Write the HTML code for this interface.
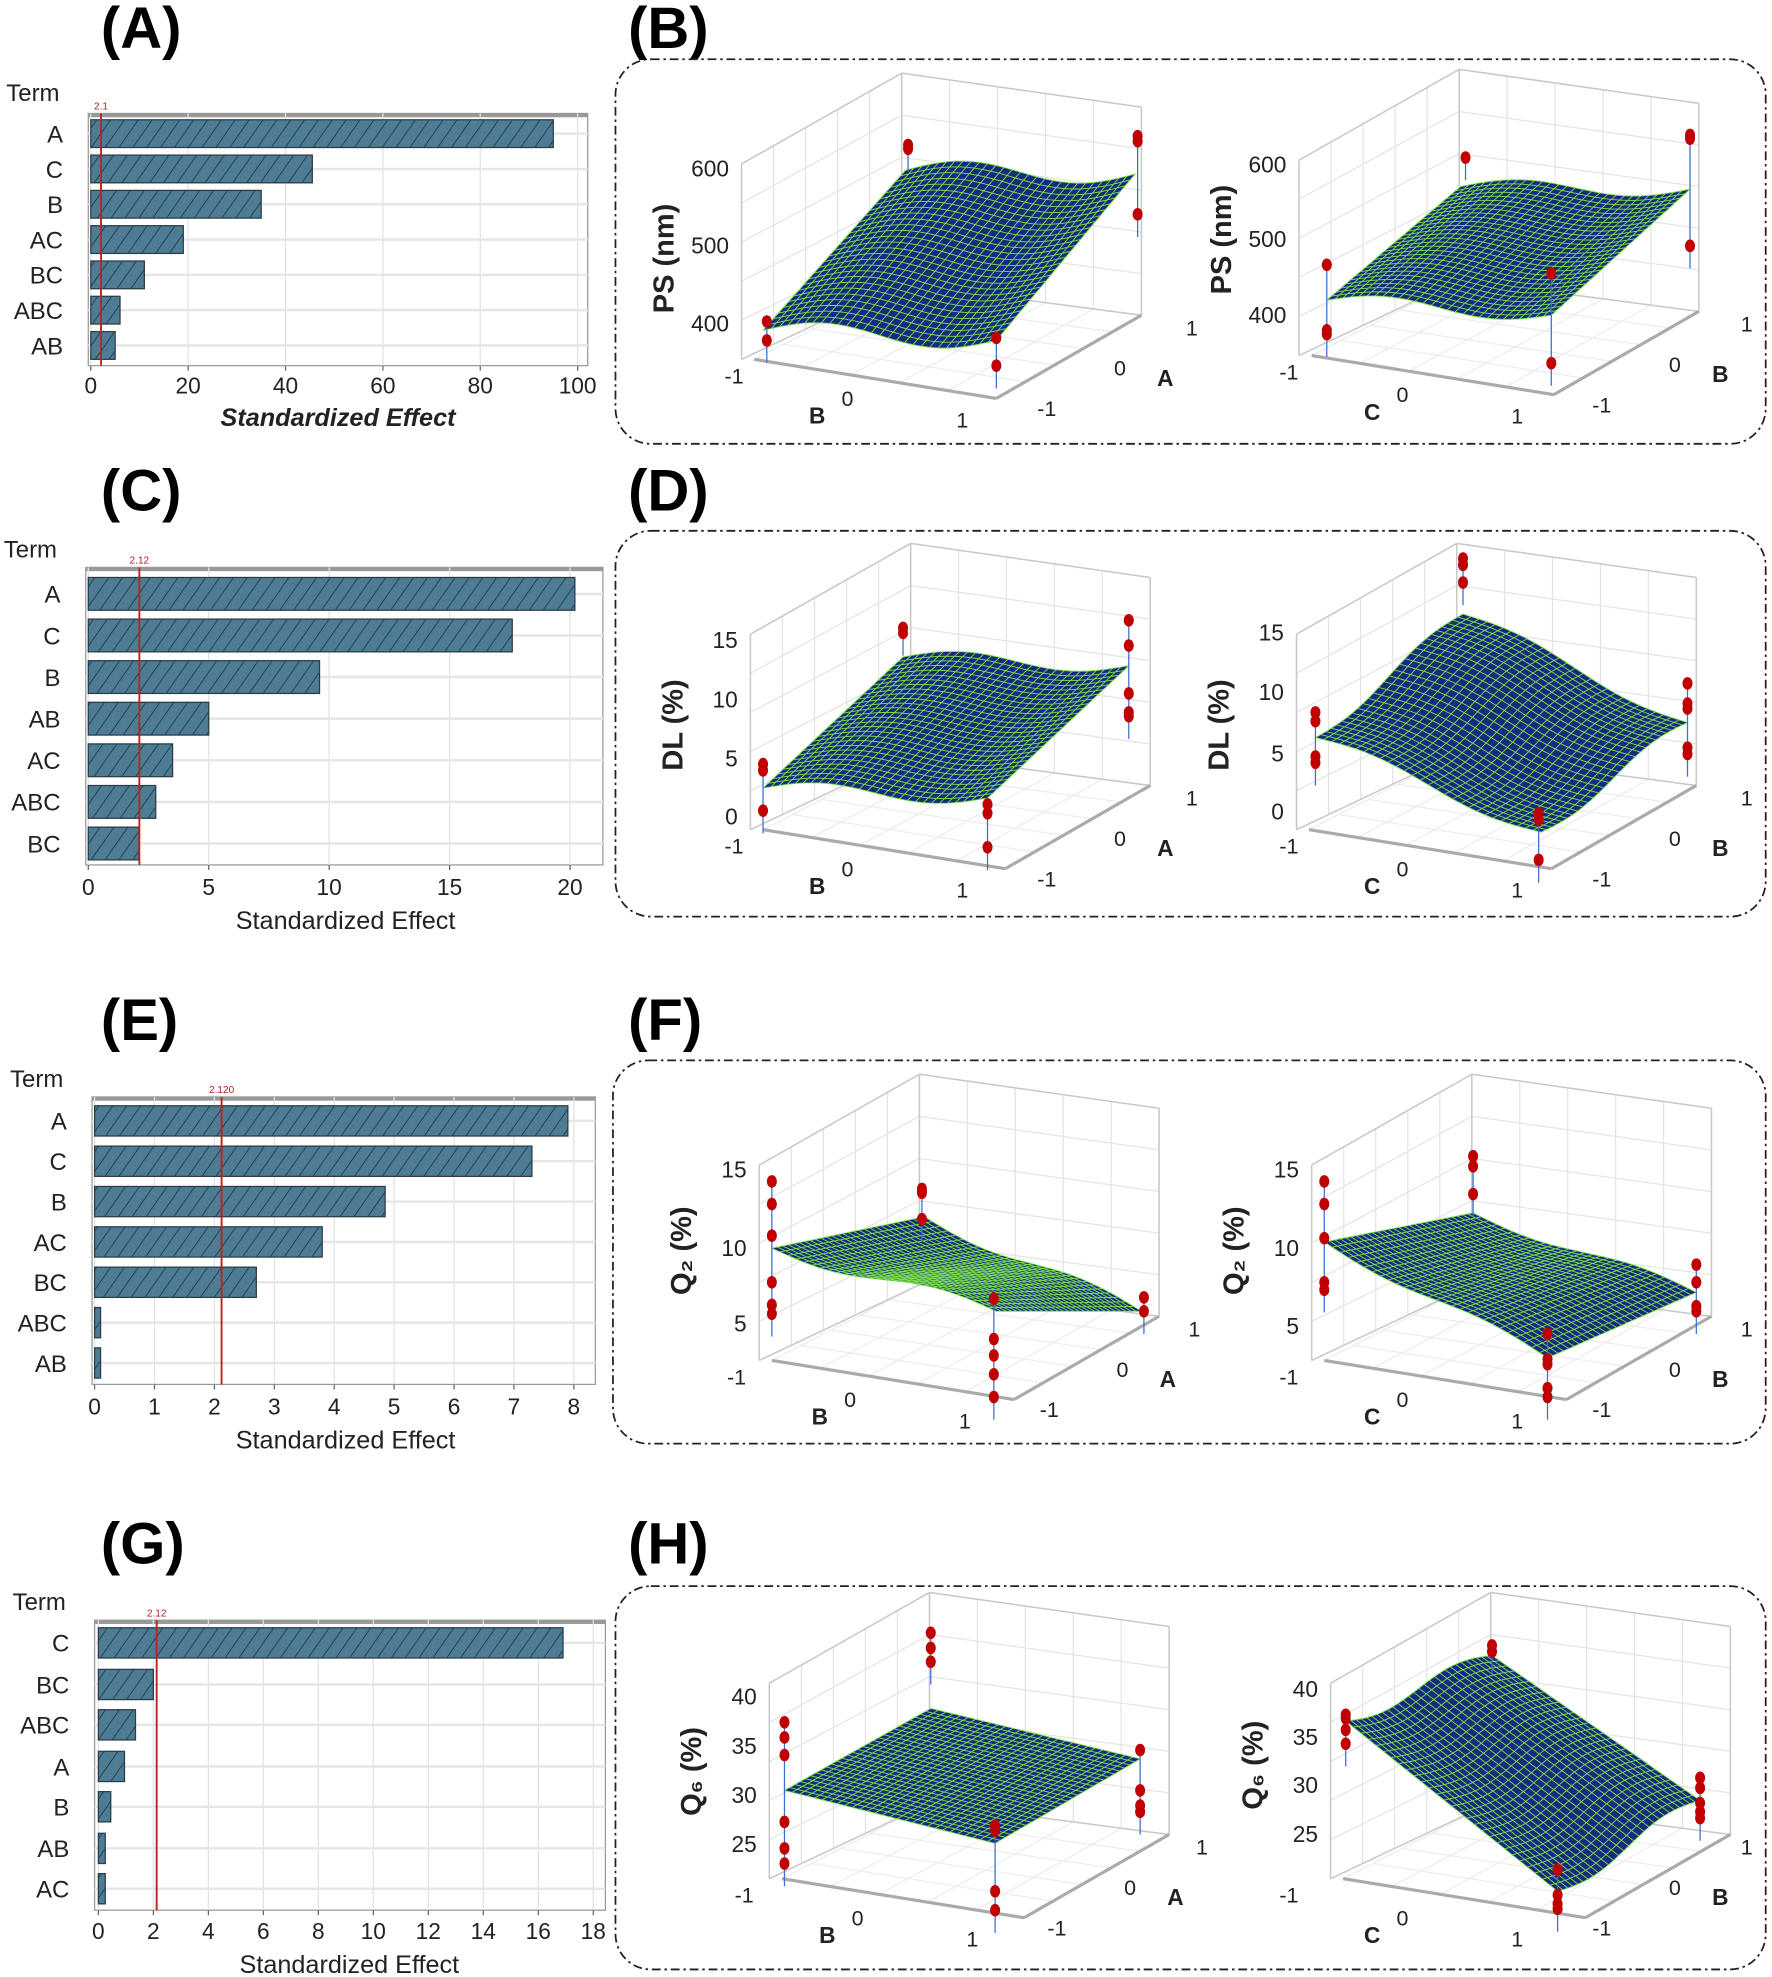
<!DOCTYPE html>
<html><head><meta charset="utf-8"><style>
html,body{margin:0;padding:0;background:#fff;}
svg{display:block;font-family:"Liberation Sans",sans-serif;}
</style></head><body>
<svg id="s" width="1772" height="1977" viewBox="0 0 1405 1568" preserveAspectRatio="none" xmlns="http://www.w3.org/2000/svg">
<defs>
<pattern id="h" patternUnits="userSpaceOnUse" width="9" height="9" patternTransform="rotate(35)">
<rect width="9" height="9" fill="#4d7c94"/><line x1="0" y1="0" x2="0" y2="9" stroke="#1d3440" stroke-width="1.3"/>
</pattern>
</defs>
<g font-weight="bold" font-size="46" fill="#000">
<text x="80" y="38">(A)</text><text x="498" y="38">(B)</text>
<text x="80" y="405">(C)</text><text x="498" y="405">(D)</text>
<text x="80" y="825">(E)</text><text x="498" y="825">(F)</text>
<text x="80" y="1240">(G)</text><text x="498" y="1240">(H)</text>
</g>
<g fill="none" stroke="#222" stroke-width="1.4" stroke-dasharray="7,3,2,3">
<rect x="488" y="47" width="912" height="305" rx="28"/>
<rect x="488" y="421" width="912" height="306" rx="28"/>
<rect x="486" y="841" width="914" height="304" rx="28"/>
<rect x="488" y="1258" width="912" height="304" rx="28"/>
</g>
<g id="g"></g>
</svg>
<script>
const NS="http://www.w3.org/2000/svg",G=document.getElementById('g');
function el(t,a,txt){const e=document.createElementNS(NS,t);for(const k in a)e.setAttribute(k,a[k]);if(txt!==undefined)e.textContent=txt;G.appendChild(e);return e;}
function bar(o){
 const [x0,y0,x1,y1]=o.box;
 el('rect',{x:x0,y:y0,width:x1-x0,height:y1-y0,fill:'#fff',stroke:'#999','stroke-width':1});
 el('rect',{x:x0,y:y0,width:x1-x0,height:3,fill:'#999'});
 o.ticks.forEach(t=>{const x=o.z+t*o.s;el('line',{x1:x,y1:y0,x2:x,y2:y1,stroke:'#e2e2e2'});el('line',{x1:x,y1:y1,x2:x,y2:y1+4,stroke:'#666'});
  el('text',{x:x,y:o.ty,'font-size':18,'text-anchor':'middle',fill:'#222'},String(t));});
 o.rows.forEach((r,i)=>{el('line',{x1:x0,y1:r,x2:x1,y2:r,stroke:'#e6e6e6','stroke-width':2});
  el('rect',{x:o.z,y:r-o.h/2,width:Math.max(o.v[i]*o.s,2),height:o.h,fill:'url(#h)',stroke:'#2a3d48','stroke-width':1});
  el('text',{x:o.lx,y:r+7,'font-size':19,'text-anchor':'end',fill:'#222'},o.l[i]);});
 const rx=o.z+o.red*o.s;el('line',{x1:rx,y1:y0,x2:rx,y2:y1,stroke:'#b22','stroke-width':1.5});
 el('text',{x:rx,y:y0-3,'font-size':8,'text-anchor':'middle',fill:'#a22'},o.rl);
 el('text',{x:o.tx,y:o.tyy,'font-size':19,fill:'#222'},'Term');
 el('text',{x:o.xc,y:o.xy,'font-size':20,'text-anchor':'middle',fill:'#222','font-style':o.it?'italic':'normal','font-weight':o.it?'bold':'normal'},'Standardized Effect');
}
bar({box:[70,90,466,290],z:72,s:3.86,ticks:[0,20,40,60,80,100],ty:312,rows:[106,134,162,190,218,246,274],h:22,v:[95,45.5,35,19,11,6,5],l:['A','C','B','AC','BC','ABC','AB'],lx:50,red:2.1,rl:'2.1',tx:5,tyy:80,xc:268,xy:338,it:true});
bar({box:[68,450,478,686],z:70,s:19.1,ticks:[0,5,10,15,20],ty:710,rows:[471,504,537,570,603,636,669],h:26,v:[20.2,17.6,9.6,5,3.5,2.8,2.1],l:['A','C','B','AB','AC','ABC','BC'],lx:48,red:2.12,rl:'2.12',tx:3,tyy:442,xc:274,xy:737});
bar({box:[73,870,472,1098],z:75,s:47.5,ticks:[0,1,2,3,4,5,6,7,8],ty:1122,rows:[889,921,953,985,1017,1049,1081],h:24,v:[7.9,7.3,4.85,3.8,2.7,0.1,0.1],l:['A','C','B','AC','BC','ABC','AB'],lx:53,red:2.12,rl:'2.120',tx:8,tyy:862,xc:274,xy:1149});
bar({box:[75,1285,480,1515],z:78,s:21.8,ticks:[0,2,4,6,8,10,12,14,16,18],ty:1538,rows:[1303,1336,1368,1401,1433,1466,1498],h:24,v:[16.9,2,1.35,0.95,0.45,0.25,0.25],l:['C','BC','ABC','A','B','AB','AC'],lx:55,red:2.12,rl:'2.12',tx:10,tyy:1277,xc:277,xy:1565});

function P(x,y){return x.toFixed(1)+','+y.toFixed(1);}
function plot3(o){
 const dx=o.dx,dy=o.dy,ldx=o.ldx;
 const L=[598+dx,285+dy],F=[790+dx,316+dy],R=[905+dx,250+dy],K=[715+dx,225+dy];
 const Lt=[588+dx,130+dy],Kt=[715+dx,58+dy],Rt=[905+dx,85+dy],L0=[588+dx,285+dy];
 for(let i=0;i<=5;i++){const t=i/5;
  el('line',{x1:L0[0]+(K[0]-L0[0])*t,y1:L0[1]+(K[1]-L0[1])*t,x2:Lt[0]+(Kt[0]-Lt[0])*t,y2:Lt[1]+(Kt[1]-Lt[1])*t,stroke:'#e4e4e4'});
  el('line',{x1:K[0]+(R[0]-K[0])*t,y1:K[1]+(R[1]-K[1])*t,x2:Kt[0]+(Rt[0]-Kt[0])*t,y2:Kt[1]+(Rt[1]-Kt[1])*t,stroke:'#e4e4e4'});
  el('line',{x1:L0[0]+(Lt[0]-L0[0])*t,y1:L0[1]+(Lt[1]-L0[1])*t,x2:K[0]+(Kt[0]-K[0])*t,y2:K[1]+(Kt[1]-K[1])*t,stroke:'#e4e4e4'});
  el('line',{x1:K[0]+(Kt[0]-K[0])*t,y1:K[1]+(Kt[1]-K[1])*t,x2:R[0]+(Rt[0]-R[0])*t,y2:R[1]+(Rt[1]-R[1])*t,stroke:'#e4e4e4'});
  el('line',{x1:L[0]+(F[0]-L[0])*t,y1:L[1]+(F[1]-L[1])*t,x2:K[0]+(R[0]-K[0])*t,y2:K[1]+(R[1]-K[1])*t,stroke:'#ececec'});
  el('line',{x1:F[0]+(R[0]-F[0])*t,y1:F[1]+(R[1]-F[1])*t,x2:L[0]+(K[0]-L[0])*t,y2:L[1]+(K[1]-L[1])*t,stroke:'#ececec'});
 }
 [[L0,Lt],[K,Kt],[R,Rt],[Lt,Kt],[Kt,Rt],[L0,K],[K,R]].forEach(s=>el('line',{x1:s[0][0],y1:s[0][1],x2:s[1][0],y2:s[1][1],stroke:'#c8c8c8','stroke-width':1.2}));
 el('line',{x1:L[0],y1:L[1],x2:F[0],y2:F[1],stroke:'#aaa','stroke-width':2.5});
 el('line',{x1:F[0],y1:F[1],x2:R[0],y2:R[1],stroke:'#aaa','stroke-width':2.5});
 const S=o.s,N=28;
 function pt(u,v){
  const a=[S[0][0]*(1-u)*(1-v)+S[1][0]*u*(1-v)+S[2][0]*u*v+S[3][0]*(1-u)*v,
           S[0][1]*(1-u)*(1-v)+S[1][1]*u*(1-v)+S[2][1]*u*v+S[3][1]*(1-u)*v];
  a[1]+= (o.a1||0)*Math.sin(2*Math.PI*u)+(o.a2||0)*Math.sin(2*Math.PI*v);
  return a;}
 let d='';
 for(let i=N-1;i>=0;i--)for(let j=N-1;j>=0;j--){
  const p=[pt(i/N,j/N),pt((i+1)/N,j/N),pt((i+1)/N,(j+1)/N),pt(i/N,(j+1)/N)];
  d+='M'+p.map(q=>P(q[0],q[1])).join('L')+'Z';}
 el('path',{d:d,fill:'#162a80',stroke:'#7be04a','stroke-width':0.7});
 o.dots.forEach(g=>{const x=g[0],ys=g.slice(1);
  el('line',{x1:x,y1:Math.min(...ys),x2:x,y2:Math.max(...ys)+18,stroke:'#3a6fd0','stroke-width':1});
  ys.forEach(y=>el('ellipse',{cx:x,cy:y,rx:4,ry:5,fill:'#c00000'}));});
 o.zt.forEach(t=>el('text',{x:Lt[0]-10,y:t[1]+6,'font-size':18,'text-anchor':'end',fill:'#222'},t[0]));
 el('text',{transform:`translate(${Lt[0]-54},${o.zc}) rotate(-90)`,'font-size':23,'font-weight':'bold','text-anchor':'middle',fill:'#222'},o.zl);
 const T=[['-1',582,304],['0',672,322],['1',763,339],['-1',830,330],['0',888,298],['1',945,266]];
 T.forEach(t=>el('text',{x:t[1]+ldx,y:t[2]+dy,'font-size':17,'text-anchor':'middle',fill:'#222'},t[0]));
 el('text',{x:648+ldx,y:336+dy,'font-size':18,'font-weight':'bold','text-anchor':'middle',fill:'#222'},o.xa);
 el('text',{x:924+ldx,y:306+dy,'font-size':18,'font-weight':'bold','text-anchor':'middle',fill:'#222'},o.ya);
}
plot3({dx:0,ldx:0,dy:0,s:[[605,262],[790,270],[900,138],[718,135]],a1:-8,a2:0,zt:[['600',134],['500',195],['400',257]],zc:205,zl:'PS (nm)',xa:'B',ya:'A',
 dots:[[608,255,270],[790,268,290],[720,115,118],[902,108,112,170]]});
plot3({dx:442,ldx:440,dy:-3,s:[[1052,238],[1230,250],[1340,150],[1158,148]],a1:-6,zt:[['600',131],['500',190],['400',250]],zc:190,zl:'PS (nm)',xa:'C',ya:'B',
 dots:[[1052,210,262,265],[1230,217,288],[1162,125],[1340,107,110,195]]});
plot3({dx:7,ldx:0,dy:373,s:[[605,625],[783,633],[895,528],[716,521]],a1:-6,zt:[['15',508],['10',555],['5',602],['0',648]],zc:575,zl:'DL (%)',xa:'B',ya:'A',
 dots:[[605,606,611,643],[783,638,645,672],[716,498,502],[895,492,512,550,565,568]]});
plot3({dx:440,ldx:440,dy:373,s:[[1043,585],[1222,660],[1338,573],[1160,487]],a1:-5,a2:5,zt:[['15',502],['10',549],['5',598],['0',644]],zc:575,zl:'DL (%)',xa:'C',ya:'B',
 dots:[[1043,565,572,600,605],[1220,645,650,682],[1160,443,448,462],[1338,542,558,562,593,598]]});
plot3({dx:14,ldx:2,dy:794,s:[[612,990],[790,1040],[905,1040],[733,965]],a1:5,zt:[['15',928],['10',990],['5',1050]],zc:992,zl:'Q₂ (%)',xa:'B',ya:'A',
 dots:[[612,937,955,980,1017,1035,1042],[788,1030,1062,1075,1090,1108],[731,943,946,967],[907,1029,1040]]});
plot3({dx:452,ldx:440,dy:794,s:[[1050,985],[1227,1077],[1345,1025],[1168,962]],a1:4,zt:[['15',928],['10',990],['5',1052]],zc:992,zl:'Q₂ (%)',xa:'C',ya:'B',
 dots:[[1050,937,955,982,1017,1023],[1227,1058,1078,1082,1101,1108],[1168,917,925,947],[1345,1003,1017,1036,1040]]});
plot3({dx:22,ldx:8,dy:1205,s:[[622,1420],[789,1462],[904,1395],[738,1355]],zt:[['40',1346],['35',1385],['30',1424],['25',1463]],zc:1405,zl:'Q₆ (%)',xa:'B',ya:'A',
 dots:[[622,1366,1378,1392,1445,1466,1478],[789,1448,1452,1500,1515],[738,1295,1307,1318],[904,1388,1420,1432,1437]]});
plot3({dx:467,ldx:440,dy:1205,s:[[1067,1365],[1235,1500],[1348,1428],[1183,1313]],a2:6,zt:[['40',1340],['35',1378],['30',1416],['25',1455]],zc:1400,zl:'Q₆ (%)',xa:'C',ya:'B',
 dots:[[1067,1360,1363,1372,1383],[1235,1483,1503,1510,1514],[1183,1305,1310],[1348,1410,1418,1430,1437,1442]]});
</script>
</body></html>
